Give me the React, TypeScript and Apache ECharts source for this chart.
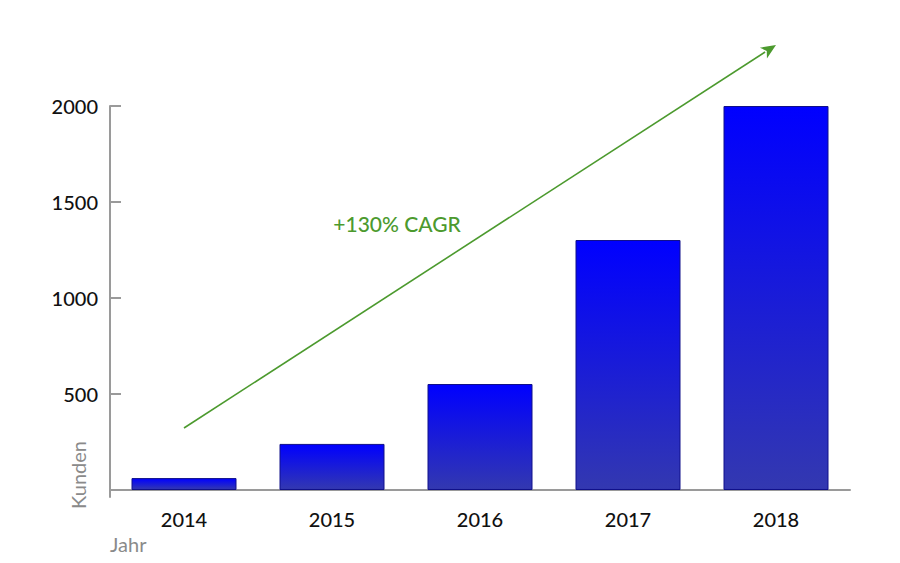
import React, { useEffect, useRef } from "react";
import * as echarts from "echarts";

const years = ["2014", "2015", "2016", "2017", "2018"];
const kunden = [62, 240, 552, 1302, 2000];
const yTicks = [500, 1000, 1500, 2000];
const arrowStart = ["2014", 323];
const arrowEnd = ["2018", 2318];
const cagrLabel = "+130% CAGR";

const GREEN = "#4c9a2e";
const FONT = "Lato, 'Noto Sans', sans-serif";

export default function App() {
  const ref = useRef<HTMLDivElement>(null);
  useEffect(() => {
    document.body.style.margin = "0";
    const chart = echarts.init(ref.current!, null, { renderer: "svg" });
    const option: any = {
      animation: false,
      backgroundColor: "#ffffff",
      grid: { left: 110, right: 50, top: 106, bottom: 66 },
      xAxis: {
        type: "category",
        data: years,
        boundaryGap: true,
        axisLine: { lineStyle: { color: "#9a9a9a", width: 2 } },
        axisTick: { inside: true, length: 8, lineStyle: { color: "#9a9a9a", width: 2 } },
        axisLabel: { color: "#111", fontSize: 20, fontWeight: 500, fontFamily: FONT, margin: 12 },
      },
      yAxis: {
        type: "value",
        min: -36.5,
        max: 2000,
        splitLine: { show: false },
        axisLine: { show: true, lineStyle: { color: "#9a9a9a", width: 2 } },
        axisTick: {
          show: true,
          inside: true,
          length: 11,
          customValues: yTicks,
          lineStyle: { color: "#9a9a9a", width: 2 },
        },
        axisLabel: {
          color: "#111",
          fontSize: 20,
          fontWeight: 500,
          fontFamily: FONT,
          margin: 12,
          customValues: yTicks,
          formatter: (v: number) => String(v),
        },
      },
      series: [
        {
          type: "bar",
          data: kunden,
          barWidth: 105,
          itemStyle: {
            color: new echarts.graphic.LinearGradient(0, 0, 0, 1, [
              { offset: 0, color: "#0000ff" },
              { offset: 1, color: "#3338b0" },
            ]),
            borderColor: "#10108a",
            borderWidth: 1,
          },
        },
      ],
    };
    chart.setOption(option);

    const p1 = chart.convertToPixel({ xAxisIndex: 0, yAxisIndex: 0 }, arrowStart as any) as number[];
    const p2 = chart.convertToPixel({ xAxisIndex: 0, yAxisIndex: 0 }, arrowEnd as any) as number[];
    const dx = p2[0] - p1[0];
    const dy = p2[1] - p1[1];
    const len = Math.sqrt(dx * dx + dy * dy);
    const ux = dx / len;
    const uy = dy / len;
    const headLen = 15;
    const headHalf = 6.5;
    const bx = p2[0] - ux * headLen;
    const by = p2[1] - uy * headLen;
    const nx = -uy;
    const ny = ux;

    chart.setOption({
      graphic: [
        {
          type: "line",
          shape: { x1: p1[0], y1: p1[1], x2: bx + ux * 2, y2: by + uy * 2 },
          style: { stroke: GREEN, lineWidth: 1.6 },
        },
        {
          type: "polygon",
          shape: {
            points: [
              [p2[0], p2[1]],
              [bx + nx * headHalf, by + ny * headHalf],
              [bx + ux * 4, by + uy * 4],
              [bx - nx * headHalf, by - ny * headHalf],
            ],
          },
          style: { fill: GREEN },
        },
        {
          type: "text",
          x: 397,
          y: 223,
          style: {
            text: cagrLabel,
            fill: GREEN,
            fontSize: 21,
            fontWeight: 500,
            fontFamily: FONT,
            align: "center",
            verticalAlign: "middle",
          },
        },
        {
          type: "text",
          x: 78,
          y: 475,
          rotation: Math.PI / 2,
          style: {
            text: "Kunden",
            fill: "#8a8a8a",
            fontSize: 20,
            fontFamily: FONT,
            align: "center",
            verticalAlign: "middle",
          },
        },
        {
          type: "text",
          x: 110,
          y: 544,
          style: {
            text: "Jahr",
            fill: "#8a8a8a",
            fontSize: 20,
            fontFamily: FONT,
            align: "left",
            verticalAlign: "middle",
          },
        },
      ],
    });

    return () => chart.dispose();
  }, []);
  return <div ref={ref} style={{ position: "absolute", left: 0, top: 0, width: 900, height: 563 }} />;
}
